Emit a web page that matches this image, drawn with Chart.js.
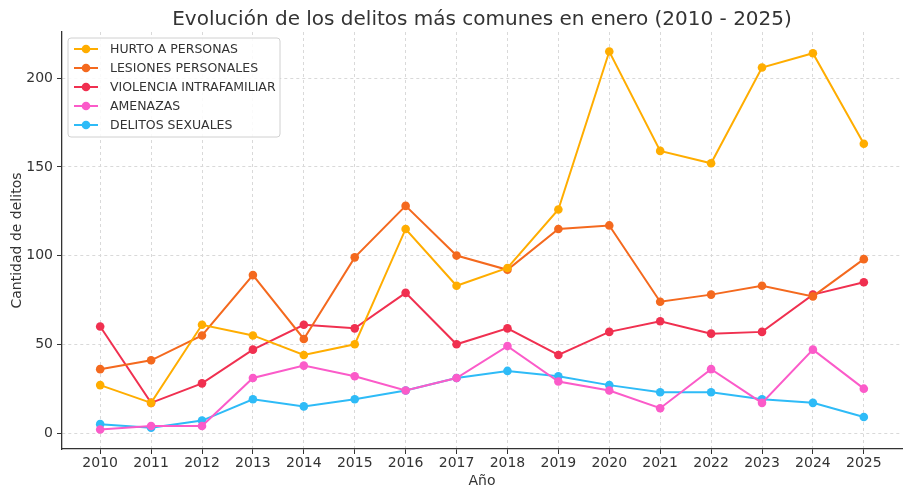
<!DOCTYPE html>
<html>
<head>
<meta charset="utf-8">
<script src="https://cdn.jsdelivr.net/npm/chart.js@4"></script>
<style>
  html, body { margin: 0; padding: 0; background: #fff; }
  #wrap { width: 910px; height: 497px; }
</style>
</head>
<body>
<div id="wrap"><canvas id="myCanvas" width="910" height="497"></canvas></div>
<script>
// data
var years = [2010, 2011, 2012, 2013, 2014, 2015, 2016, 2017, 2018, 2019, 2020, 2021, 2022, 2023, 2024, 2025];
var hurto = [27, 17, 61, 55, 44, 50, 115, 83, 93, 126, 215, 159, 152, 206, 214, 163];
var lesiones = [36, 41, 55, 89, 53, 99, 128, 100, 92, 115, 117, 74, 78, 83, 77, 98];
var violencia = [60, 17, 28, 47, 61, 59, 79, 50, 59, 44, 57, 63, 56, 57, 78, 85];
var amenazas = [2, 4, 4, 31, 38, 32, 24, 31, 49, 29, 24, 14, 36, 17, 47, 25];
var sexuales = [5, 3, 7, 19, 15, 19, 24, 31, 35, 32, 27, 23, 23, 19, 17, 9];
var yTicks = [0, 50, 100, 150, 200];

var seriesNames = ['HURTO A PERSONAS', 'LESIONES PERSONALES', 'VIOLENCIA INTRAFAMILIAR', 'AMENAZAS', 'DELITOS SEXUALES'];
var seriesColors = ['#ffad00', '#f4691e', '#f03050', '#fb5bc9', '#2ebbf7'];
var seriesData = [hurto, lesiones, violencia, amenazas, sexuales];

function toPoints(vals) {
    var pts = [];
    for (var i in vals) {
        pts.push({ x: years[i], y: vals[i] });
    }
    return pts;
}

var datasets = [];
for (var s = 0; s < seriesNames.length; s++) {
    datasets.push({
        label: seriesNames[s],
        data: toPoints(seriesData[s]),
        borderColor: seriesColors[s],
        backgroundColor: seriesColors[s],
        borderWidth: 2,
        pointRadius: 4.3,
        pointHoverRadius: 4.3,
        pointBorderWidth: 0,
        tension: 0
    });
}

// legend box inside the plot, matplotlib style
var innerLegend = {
    id: 'innerLegend',
    afterDatasetsDraw: function (chart) {
        var ctx = chart.ctx;
        var area = chart.chartArea;
        var x0 = area.left + 6, y0 = area.top + 6, w = 212, h = 99;
        ctx.save();
        ctx.beginPath();
        ctx.roundRect(x0, y0, w, h, 3);
        ctx.fillStyle = 'rgba(255,255,255,0.85)';
        ctx.fill();
        ctx.strokeStyle = '#d0d0d0';
        ctx.lineWidth = 1;
        ctx.stroke();
        ctx.font = '12.5px "DejaVu Sans"';
        ctx.textBaseline = 'middle';
        chart.data.datasets.forEach(function (ds, i) {
            var yy = y0 + 11 + i * 19;
            ctx.strokeStyle = ds.borderColor;
            ctx.lineWidth = 2;
            ctx.beginPath();
            ctx.moveTo(x0 + 6, yy);
            ctx.lineTo(x0 + 30, yy);
            ctx.stroke();
            ctx.fillStyle = ds.borderColor;
            ctx.beginPath();
            ctx.arc(x0 + 18, yy, 4.3, 0, Math.PI * 2);
            ctx.fill();
            ctx.fillStyle = '#333';
            ctx.fillText(ds.label, x0 + 42, yy + 1);
        });
        ctx.restore();
    }
};

var gridOpts = {
    color: '#d9d9d9',
    tickColor: '#333',
    tickBorderDash: [],
    tickLength: 5
};

var ctx = document.getElementById('myCanvas');
var lineGraph = new Chart(ctx, {
    type: 'line',
    data: { datasets: datasets },
    plugins: [innerLegend],
    options: {
        responsive: false,
        animation: false,
        layout: { padding: { left: 0, right: 8, top: 0, bottom: 0 } },
        plugins: {
            legend: { display: false },
            tooltip: { enabled: false },
            title: {
                display: true,
                fullSize: false,
                text: 'Evolución de los delitos más comunes en enero (2010 - 2025)',
                color: '#333',
                font: { family: 'DejaVu Sans', size: 20, weight: 'normal' },
                padding: { top: 8, bottom: 0 }
            }
        },
        scales: {
            x: {
                type: 'linear',
                min: 2009.25,
                max: 2025.75,
                afterBuildTicks: function (scale) {
                    scale.ticks = years.map(function (y) { return { value: y }; });
                },
                afterFit: function (scale) { scale.height = 48; },
                ticks: {
                    color: '#333',
                    font: { family: 'DejaVu Sans', size: 14 },
                    padding: 1,
                    maxRotation: 0,
                    autoSkip: false,
                    callback: function (v) { return String(v); }
                },
                grid: gridOpts,
                border: { color: '#333', width: 1.3, dash: [3, 3] },
                title: {
                    display: true,
                    text: 'Año',
                    color: '#333',
                    font: { family: 'DejaVu Sans', size: 14 },
                    padding: { top: 0, bottom: 7 }
                }
            },
            y: {
                min: -9,
                max: 226,
                afterBuildTicks: function (scale) {
                    scale.ticks = yTicks.map(function (v) { return { value: v }; });
                },
                afterFit: function (scale) { scale.width = 62; },
                ticks: {
                    color: '#333',
                    font: { family: 'DejaVu Sans', size: 14 },
                    padding: 4
                },
                grid: gridOpts,
                border: { color: '#333', width: 1.3, dash: [3, 3] },
                title: {
                    display: true,
                    text: 'Cantidad de delitos',
                    color: '#333',
                    font: { family: 'DejaVu Sans', size: 14 },
                    padding: { top: 9, bottom: 0 }
                }
            }
        }
    }
});
</script>
</body>
</html>
